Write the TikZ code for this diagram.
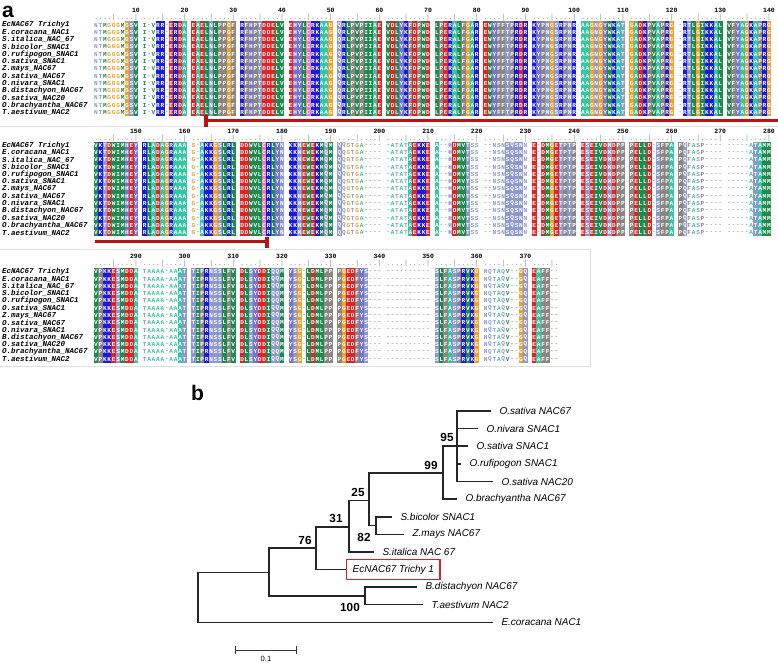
\documentclass[tikz,border=0pt]{standalone}
\usepackage{fontspec}
\setmainfont{Liberation Sans}
\newfontfamily\seqfont{Liberation Mono}
\usepackage{xcolor}
\usepackage{tikz}

% residue colours
\definecolor{resblue}{HTML}{1A1ADC}
\definecolor{resred}{HTML}{E42020}
\definecolor{resgreen}{HTML}{208A4E}
\definecolor{resteal}{HTML}{34C6A2}
\definecolor{resgray}{HTML}{8A8580}
\definecolor{resslate}{HTML}{8C98CC}
\definecolor{resorange}{HTML}{F0A028}
\definecolor{respink}{HTML}{F07AB8}
\definecolor{respurple}{HTML}{7474D0}
\definecolor{barred}{HTML}{B41414}
\definecolor{boxred}{HTML}{E02020}

\newcommand\defres[2]{\colorlet{res#1}{#2}\lowercase{\colorlet{res#1}}{#2}}
\defres{K}{resblue}   \defres{R}{resblue}
\defres{D}{resred}    \defres{E}{resred}
\defres{L}{resgreen}  \defres{I}{resgreen}  \defres{V}{resgreen}
\defres{M}{resgreen}  \defres{W}{resgreen}
\defres{A}{resteal}   \defres{G}{resorange}
\defres{P}{resgray}   \defres{F}{resgray}
\defres{N}{resslate}  \defres{Q}{resslate}  \defres{S}{resslate}  \defres{T}{resslate}
\defres{H}{respurple} \defres{Y}{respurple} \defres{C}{respink}

% one alignment column = 13 rows
\newcommand\rowstack[1]{#1\\#1\\#1\\#1\\#1\\#1\\#1\\#1\\#1\\#1\\#1\\#1\\#1}
\newcount\rescount
\newcommand\alignblock[3]{\global\rescount=0 \def\blockx{#1}\def\blocky{#2}\resloop#3\relax}
\def\resloop#1{\ifx#1\relax\else\rescell{#1}\expandafter\resloop\fi}
\newcommand\rescell[1]{%
  \pgfmathsetmacro\resx{\blockx+int(\the\rescount/10)*48.7+mod(\the\rescount,10)*4.43}%
  \if-#1\relax
    \node[gapcol] (c\the\rescount) at (\resx,\blocky+47.45) {\rowstack{-}};%
  \else\ifnum`#1<96
    \fill[res#1] (\resx-2.3,\blocky) rectangle (\resx+2.3,\blocky+94.9);%
    \node[rescol] (c\the\rescount) at (\resx,\blocky+47.45) {\rowstack{#1}};%
  \else
    \node[rescol, text=res#1] (c\the\rescount) at (\resx,\blocky+47.45) {\uppercase{\rowstack{#1}}};%
  \fi\fi
  \global\advance\rescount by 1\relax}

\begin{document}
\begin{tikzpicture}[x=0.03cm, y=-0.03cm,
  seqname/.style={anchor=west, inner sep=0, font=\seqfont\bfseries\itshape\fontsize{6.4}{7}\selectfont},
  rescol/.style={inner sep=0, align=center, text=white, font=\seqfont\bfseries\fontsize{5.2}{6.21}\selectfont},
  gapcol/.style={rescol, text=gray!70},
  ruler/.style={anchor=base west, inner sep=0, text=gray!80, font=\seqfont\fontsize{6.28}{7}\selectfont},
  rulenum/.style={anchor=base, inner sep=0, font=\seqfont\bfseries\fontsize{5.5}{6}\selectfont},
  redbar/.style={barred, line width=2.6pt},
  leaf/.style={anchor=west, inner xsep=0.25cm, inner ysep=1pt, font=\itshape\fontsize{8.5}{10}\selectfont},
  boot/.style={inner sep=0, font=\bfseries\fontsize{10}{12}\selectfont},
  branch/.style={line width=1pt, black!85},
  panel/.style={anchor=base west, inner sep=0, font=\bfseries\fontsize{18}{20}\selectfont}]
  \useasboundingbox[fill=white] (0,0) rectangle (778,662);

  % Panel a: alignment frames
  \draw[gray!25] (0,126) -- (778,126);
  \draw[gray!25] (0,249) -- (590,249) -- (590,366) -- (0,366);
  \node[panel] (pa) at (2,17) {a};

  % Sequence names
  \foreach \nm [count=\i from 0] in {EcNAC67 Trichy1, E.coracana\_NAC1, S.italica\_NAC\_67,
      S.bicolor\_SNAC1, O.rufipogon\_SNAC1, O.sativa\_SNAC1, Z.mays\_NAC67, O.sativa\_NAC67,
      O.nivara\_SNAC1, B.distachyon\_NAC67, O.sativa\_NAC20, O.brachyantha\_NAC67, T.aestivum\_NAC2} {
    \node[seqname] (nmA\i) at (2, 24.95+7.3*\i) {\nm};
    \node[seqname] (nmB\i) at (2, 145.15+7.3*\i) {\nm};
    \node[seqname] (nmC\i) at (2, 271.65+7.3*\i) {\nm};
  }

  % Rulers
  \foreach \g in {0,...,13} {
    \pgfmathtruncatemacro\na{10*(\g+1)}
    \pgfmathtruncatemacro\nb{10*(\g+15)}
    \node[ruler] (rA\g) at (96-2.215+48.7*\g, 19) {....|....|};
    \node[rulenum] (tA\g) at (96+39.87+48.7*\g, 12) {\na};
    \node[ruler] (rB\g) at (96-2.215+48.7*\g, 140.5) {....|....|};
    \node[rulenum] (tB\g) at (96+39.87+48.7*\g, 133) {\nb};
  }
  \foreach \g in {0,...,8} {
    \pgfmathtruncatemacro\nc{10*(\g+29)}
    \node[ruler] (rC\g) at (96-2.215+48.7*\g, 265.5) {....|....|};
    \node[rulenum] (tC\g) at (96+39.87+48.7*\g, 258) {\nc};
  }
  \node[ruler] (rC9) at (96-2.215+48.7*9, 265.5) {....|.};

  % Residues
  \alignblock{96}{21.3}{ntmgggmGSV i-vRR-ERDA EAELNLPPGF RFHPTDDELV EHYLCRKAAG QRLPVPIIAE VDLYKFDPWD
    LPERALFGAR EWYFFTPRDR KYPNGSRPNR AAGNGYWKAT GADKPVAPRG -RTLGIKKAL VFYAGKAPRG}
  \alignblock{96}{141.5}{VKTDWIMHEY RLADAGRAAA g-AKKGSLRL DDWVLCRLYN KKNEWEKMQM Qqgtga---- -atatAEKKE
    A--hDMVTss --nsnSQSNn E-DMGETPTP ESEIVDNDPP PELLD-SFPA PQfasp---- -----aTAMM}
  \alignblock{96}{268}{VPKKESMDDA taaaa-aaAT TIPRNSSLFV DLSYDDIQQM YSG-LDMLPP PGEDFYS--- ----------
    SLFASPRVKG nqtaqv--GQ EAFF--}

  % NAC domain bars
  \coordinate (barA) at (206,120.5);
  \draw[redbar] (barA) -- (778,120.5);
  \draw[redbar] ([yshift=0.18cm]barA) -- ([yshift=-0.2cm]barA);
  \coordinate (barB) at (267,241.5);
  \draw[redbar] (barB) -- (95,241.5);
  \draw[redbar] ([yshift=0.15cm]barB) -- ([yshift=-0.2cm]barB);

  % Panel b: tree
  \node[panel] (pb) at (191,400) {b};

  \coordinate (root) at (198,598);
  \coordinate (n1) at (269,572.5);
  \coordinate (n100) at (365,596);
  \coordinate (n76) at (316,548);
  \coordinate (n31) at (349,527);
  \coordinate (n25) at (369,500.5);
  \coordinate (n82) at (376,525.5);
  \coordinate (n99) at (443,473);
  \coordinate (n95) at (457,446);

  \node[leaf] (lOs67) at (491,411) {O.sativa NAC67};
  \node[leaf] (lOniv) at (478,428.5) {O.nivara SNAC1};
  \node[leaf] (lOsSN) at (468,446) {O.sativa SNAC1};
  \node[leaf] (lOruf) at (461,464) {O.rufipogon SNAC1};
  \node[leaf] (lOs20) at (493,481.5) {O.sativa NAC20};
  \node[leaf] (lObra) at (457,499) {O.brachyantha NAC67};
  \node[leaf] (lSbic) at (392,517) {S.bicolor SNAC1};
  \node[leaf] (lZmay) at (404,534.5) {Z.mays NAC67};
  \node[leaf] (lSita) at (374,552) {S.italica NAC 67};
  \node[leaf, draw=boxred, line width=1.2pt, inner xsep=0.18cm, minimum height=0.6cm] (lEcN) at (346,569.5) {EcNAC67 Trichy 1};
  \node[leaf] (lBdis) at (417,587) {B.distachyon NAC67};
  \node[leaf] (lTaes) at (423,604.5) {T.aestivum NAC2};
  \node[leaf] (lEcor) at (493,622.5) {E.coracana NAC1};

  \draw[branch] (root) |- (n1);
  \draw[branch] (root) |- (lEcor.west);
  \draw[branch] (n1) |- (n76);
  \draw[branch] (n1) |- (n100);
  \draw[branch] (n100) |- (lBdis.west);
  \draw[branch] (n100) |- (lTaes.west);
  \draw[branch] (n76) |- (n31);
  \draw[branch] (n76) |- (lEcN.west);
  \draw[branch] (n31) |- (n25);
  \draw[branch] (n31) |- (lSita.west);
  \draw[branch] (n25) |- (n99);
  \draw[branch] (n25) |- (n82);
  \draw[branch] (n82) |- (lSbic.west);
  \draw[branch] (n82) |- (lZmay.west);
  \draw[branch] (n99) |- (n95);
  \draw[branch] (n99) |- (lObra.west);
  \draw[branch] (n95) |- (lOs67.west);
  \draw[branch] (n95) |- (lOniv.west);
  \draw[branch] (n95) |- (lOsSN.west);
  \draw[branch] (n95) |- (lOruf.west);
  \draw[branch] (n95) |- (lOs20.west);

  % Bootstrap values
  \node[boot] (b95) at (447,437) {95};
  \node[boot] (b99) at (431,465) {99};
  \node[boot] (b25) at (358,492) {25};
  \node[boot] (b31) at (336,518) {31};
  \node[boot] (b76) at (305,540) {76};
  \node[boot] (b82) at (364,537) {82};
  \node[boot] (b100) at (350,607) {100};

  % Scale bar
  \coordinate (sbL) at (235,650);
  \coordinate (sbR) at (297,650);
  \draw[black!80, line width=0.8pt, |-|] (sbL) -- (sbR);
  \node[inner sep=0, font=\fontsize{6.5}{7}\selectfont] (sbt) at (266,658.5) {0.1};
\end{tikzpicture}
\end{document}
